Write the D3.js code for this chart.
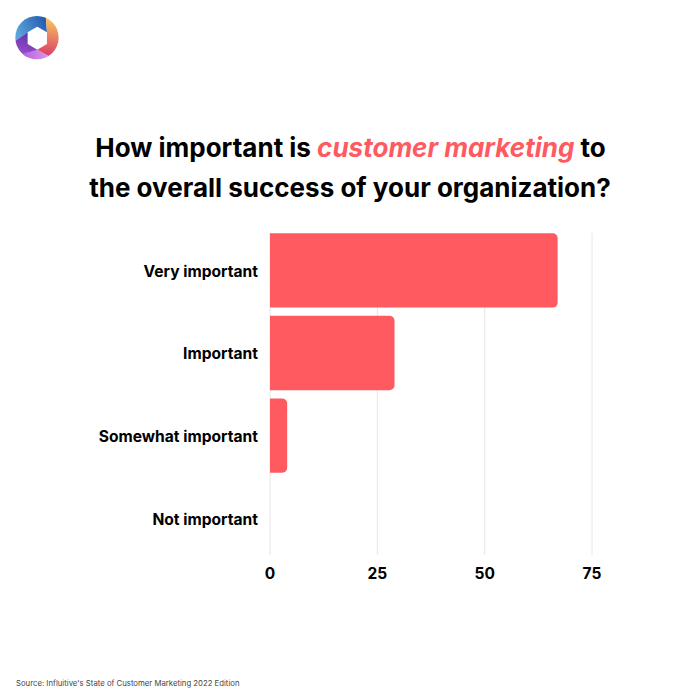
<!DOCTYPE html>
<html>
<head>
<meta charset="utf-8">
<script src="https://cdn.jsdelivr.net/npm/d3@7"></script>
<style>
html,body{margin:0;padding:0;background:#fff}
svg{display:block}
text{font-family:Inter,"Noto Sans",sans-serif;fill:#000}
</style>
</head>
<body>
<svg id="c" width="700" height="700" viewBox="0 0 700 700"></svg>
<script>
const categories = ["Very important","Important","Somewhat important","Not important"];
const values = [67,29,4,0];
const xTicks = [0,25,50,75];
const titleLine1 = [["How important is ",false],["customer marketing",true],[" to",false]];
const titleLine2 = "the overall success of your organization?";
const source = "Source: Influitive's State of Customer Marketing 2022 Edition";
const RED = "#ff5a5f";

const svg = d3.select("#c");
svg.append("rect").attr("width",700).attr("height",700).attr("fill","#fff");

// logo
const defs = svg.append("defs");
defs.append("clipPath").attr("id","lc").append("circle").attr("cx",110).attr("cy",112).attr("r",65);
function grad(id,x1,y1,x2,y2,a,b){
  const g=defs.append("linearGradient").attr("id",id).attr("gradientUnits","userSpaceOnUse")
    .attr("x1",x1).attr("y1",y1).attr("x2",x2).attr("y2",y2);
  g.append("stop").attr("offset",0).attr("stop-color",a);
  g.append("stop").attr("offset",1).attr("stop-color",b);
}
grad("gb",50,100,140,60,"#5aa5dc","#2358b0");
grad("go",150,55,135,160,"#f8c45e","#dc4468");
grad("gp",70,165,150,165,"#b565e0","#dc9af0");
grad("gd",85,95,60,160,"#5a35a8","#9a4ccc");
const logo = svg.append("g").attr("transform","translate(0.3,0.3) scale(0.3333)").attr("clip-path","url(#lc)");
const blades = [
  ["url(#gb)","M135,30L140,96L111,79L82,96L35,128L35,30Z"],
  ["url(#gd)","M82,96L82,131L111,148L65,180L30,180L35,128Z"],
  ["url(#gp)","M111,148L155,172L150,190L50,190L65,160Z"],
  ["url(#go)","M135,30L190,30L190,190L155,172L111,148L140,131L140,96Z"]
];
logo.selectAll("path").data(blades).join("path").attr("fill",d=>d[0]).attr("d",d=>d[1]);

// title
const title = svg.append("g").attr("font-size",26).attr("font-weight",700).attr("text-anchor","middle");
const t1 = title.append("text").attr("x",350.5).attr("y",157);
t1.selectAll("tspan").data(titleLine1).join("tspan")
  .attr("font-style",d=>d[1]?"italic":"normal")
  .style("fill",d=>d[1]?RED:"#000")
  .style("white-space","pre")
  .text(d=>d[0]);
title.append("text").attr("x",350).attr("y",197).text(titleLine2);

// scales
const x = d3.scaleLinear().domain([0,75]).range([270,592]);
const y = d3.scaleBand().domain(categories).range([233.3,555.3]).paddingInner(0.1).paddingOuter(0);

// grid
svg.append("g").selectAll("line").data(xTicks).join("line")
  .attr("x1",d=>x(d)).attr("x2",d=>x(d)).attr("y1",233).attr("y2",555)
  .attr("stroke","#e6e6e6").attr("stroke-width",1);

// bars
const r = 5;
svg.append("g").selectAll("path").data(values.map((v,i)=>({v,c:categories[i]})).filter(d=>d.v>0)).join("path")
  .attr("fill",RED)
  .attr("d",d=>{
    const x0=x(0),x1=x(d.v),y0=y(d.c),y1=y0+y.bandwidth();
    const p=d3.path();
    p.moveTo(x0,y0);p.lineTo(x1-r,y0);p.arcTo(x1,y0,x1,y0+r,r);
    p.lineTo(x1,y1-r);p.arcTo(x1,y1,x1-r,y1,r);p.lineTo(x0,y1);p.closePath();
    return p.toString();
  });

// axes labels
svg.append("g").attr("font-size",15.6).attr("font-weight",700).attr("text-anchor","end")
  .selectAll("text").data(categories).join("text")
  .attr("x",258).attr("y",d=>y(d)+y.bandwidth()/2+1).attr("dy","0.35em").text(d=>d);
svg.append("g").attr("font-size",15.5).attr("font-weight",700).attr("text-anchor","middle")
  .selectAll("text").data(xTicks).join("text")
  .attr("x",d=>x(d)).attr("y",579).text(d=>d);

svg.append("text").attr("x",16).attr("y",686).attr("font-size",7.75).style("fill","#444").text(source);
</script>
</body>
</html>
